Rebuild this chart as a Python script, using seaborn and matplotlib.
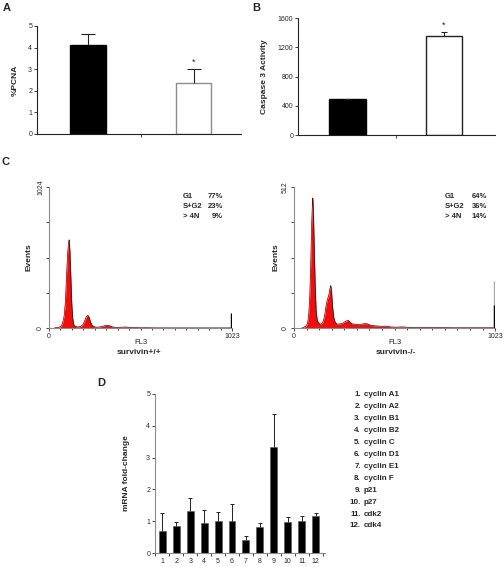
import matplotlib
matplotlib.use("Agg")
import matplotlib.pyplot as plt
import seaborn as sns

# ── Data ──────────────────────────────────────────────────────────────────────
groups = ["survivin+/+", "survivin-/-"]
pcna_mean = [4.1, 2.35]
pcna_err = [0.52, 0.65]
casp_mean = [490, 1350]
casp_err = [8, 60]

# flow cytometry histograms (FL3 channel vs events)
wt_channel = [30, 40, 55, 65, 75, 85, 92, 98, 104, 110, 113, 117, 122, 127, 132,
              137, 145, 160, 175, 190, 200, 210, 217, 224, 232, 242, 255, 270,
              290, 305, 318, 330, 342, 355, 370, 390, 410, 430, 450, 470, 500,
              550, 600, 700, 800, 900, 1000, 1016]
wt_events = [0, 3, 5, 10, 30, 90, 200, 380, 540, 630, 640, 560, 380, 190, 80,
             30, 12, 8, 10, 25, 55, 85, 93, 80, 45, 18, 8, 6,
             9, 14, 19, 20, 15, 8, 5, 5, 6, 7, 5, 3, 2,
             2, 1, 1, 1, 1, 1, 1]
ko_channel = [40, 50, 60, 68, 74, 80, 85, 90, 94, 96, 99, 103, 108, 113, 118,
              125, 135, 145, 155, 163, 170, 176, 182, 187, 191, 196, 202, 210,
              220, 235, 250, 262, 275, 285, 295, 310, 330, 345, 360, 375, 390,
              410, 430, 450, 470, 490, 520, 550, 570, 600, 700, 800, 900, 1000,
              1016]
ko_events = [0, 3, 6, 15, 40, 110, 230, 380, 460, 472, 420, 300, 150, 60, 30,
             18, 14, 18, 40, 80, 105, 115, 140, 155, 135, 80, 40, 20,
             14, 15, 18, 24, 28, 22, 15, 14, 12, 14, 16, 15, 10,
             8, 7, 6, 7, 4, 3, 4, 3, 2, 2, 1, 1, 1,
             1]
spike_channel = [1019]
wt_spike = [109]
ko_spike = [85]
ko_spike_grey = [170]

phases = ["G1", "S+G2", "> 4N"]
wt_pct = ["77%", "23%", "9%"]
ko_pct = ["64%", "36%", "14%"]

gene_ids = [str(i) for i in range(1, 13)]
gene_names = ["cyclin A1", "cyclin A2", "cyclin B1", "cyclin B2", "cyclin C",
              "cyclin D1", "cyclin E1", "cyclin F", "p21", "p27", "cdk2", "cdk4"]
mrna_fold = [0.70, 0.85, 1.31, 0.95, 1.00, 1.00, 0.41, 0.83, 3.33, 0.97, 1.00, 1.17]
mrna_err = [0.57, 0.14, 0.41, 0.41, 0.28, 0.53, 0.11, 0.11, 1.03, 0.17, 0.16, 0.09]

# ── Style ─────────────────────────────────────────────────────────────────────
sns.set_style("ticks")
plt.rcParams['font.family'] = ['Liberation Sans', 'DejaVu Sans']

W, H = 504, 567
fig = plt.figure(figsize=(W / 100, H / 100), dpi=100)


def box(l, t, r, b):
    return [l / W, 1 - b / H, (r - l) / W, (b - t) / H]


def fp(x, y):
    return x / W, 1 - y / H


def style_axes(ax, spine_color):
    for s in ["top", "right"]:
        ax.spines[s].set_visible(False)
    for s in ["left", "bottom"]:
        ax.spines[s].set_color(spine_color)
        ax.spines[s].set_linewidth(0.8)
    ax.tick_params(axis="both", which="both", direction="out", width=0.6,
                   color="#222222", labelsize=5, pad=1.5, length=2)


def up_errors(ax, x, y, err, capsize, lw=0.8):
    eb = ax.errorbar(x, y, yerr=[[0] * len(err), err], fmt="none",
                     ecolor="#222222", elinewidth=lw, capsize=capsize, capthick=lw)
    eb[1][0].set_visible(False)


# ── A / B bar panels ──────────────────────────────────────────────────────────
def bar_panel(rect, means, errs, edgecolors, width, capsize, ylim, yticks,
              ylabel, ylab_x, star_y):
    ax = fig.add_axes(rect)
    sns.barplot(x=groups, y=means, hue=groups, palette=["black", "white"],
                legend=False, width=width, errorbar=None, linewidth=1, ax=ax)
    for p, ec in zip(ax.patches, edgecolors):
        p.set_edgecolor(ec)
    up_errors(ax, [0, 1], means, errs, capsize)
    ax.text(1, star_y, "*", ha="center", va="baseline", fontsize=6.5)
    style_axes(ax, "#222222")
    ax.set_ylim(*ylim)
    ax.set_yticks(yticks)
    ax.set_xticks([0.5])
    ax.set_xticklabels([])
    ax.set_xlabel("")
    ax.set_ylabel(ylabel, fontsize=6, fontweight="bold", va="center")
    ax.yaxis.set_label_coords(ylab_x, 0.5)
    return ax


axA = bar_panel(box(37, 26, 241, 134), pcna_mean, pcna_err, ["black", "#8c8c8c"],
                0.34, 4.7, (0, 5), [0, 1, 2, 3, 4, 5], "%PCNA", -0.108, 3.2)
axA.set_xlim(-0.483, 1.45)

axB = bar_panel(box(298, 18, 495, 135), casp_mean, casp_err, ["black", "#222222"],
                0.38, 2.5, (0, 1600), [0, 400, 800, 1200, 1600],
                "Caspase 3 Activity", -0.168, 1466)
axB.set_xlim(-0.513, 1.53)


# ── C histograms ──────────────────────────────────────────────────────────────
def hist_panel(rect, ch, ev, ymax, pct, txt_x, pct_x, title, title_x, ylab_x):
    ax = fig.add_axes(rect)
    ax.fill_between(ch, ev, color="#f20c0c", lw=0)
    sns.lineplot(x=ch, y=ev, ax=ax, color="#5a0000", lw=0.5, estimator=None,
                 sort=False)
    style_axes(ax, "#8c8c8c")
    ax.set_xlim(0, 1023)
    ax.set_ylim(0, ymax)
    ax.set_xticks([0, 1023])
    ax.set_xticks(range(64, 1023, 64), minor=True)
    ax.tick_params(axis="x", which="minor", length=1.2)
    ax.set_yticks([0, ymax])
    ax.set_yticks([ymax / 4, ymax / 2, 3 * ymax / 4], minor=True)
    ax.set_yticklabels(["0", str(ymax)], rotation=90, va="center")
    ax.set_xlabel("FL3", fontsize=5.5, va="center")
    ax.xaxis.set_label_coords(0.5, -0.1)
    ax.set_ylabel("Events", fontsize=6, fontweight="bold", va="center")
    ax.yaxis.set_label_coords(ylab_x, 0.5)
    for i, (ph, pc) in enumerate(zip(phases, pct)):
        y = 197 + 10 * i
        fig.text(*fp(txt_x, y), ph, ha="left", va="center", fontsize=5.5,
                 fontweight="bold")
        fig.text(*fp(pct_x, y), pc, ha="right", va="center", fontsize=5.5,
                 fontweight="bold")
    fig.text(*fp(title_x, 353), title, ha="center", va="center", fontsize=6,
             fontweight="bold")
    return ax


axC1 = hist_panel(box(49, 187, 232, 328), wt_channel, wt_events, 1024, wt_pct,
                  183, 223, "survivin+/+", 139, -0.108)
axC1.vlines(spike_channel, 0, wt_spike, color="black", lw=1.0, zorder=5)

axC2 = hist_panel(box(294, 187, 495, 328), ko_channel, ko_events, 512, ko_pct,
                  445, 487, "survivin-/-", 396, -0.09)
axC2.vlines(spike_channel, 0, ko_spike_grey, color="#a8a8a8", lw=1.0, zorder=5)
axC2.vlines(spike_channel, 0, ko_spike, color="black", lw=1.0, zorder=6)

# ── D mRNA bars ───────────────────────────────────────────────────────────────
axD = fig.add_axes(box(155, 394, 325, 553))
sns.barplot(x=gene_ids, y=mrna_fold, color="black", width=0.5, errorbar=None,
            edgecolor="#555555", linewidth=0.4, ax=axD)
up_errors(axD, list(range(12)), mrna_fold, mrna_err, 1.5, lw=0.7)
style_axes(axD, "#8c8c8c")
axD.set_ylim(0, 5)
axD.set_yticks([0, 1, 2, 3, 4, 5])
axD.set_xlim(-0.523, 11.67)
axD.tick_params(axis="x", which="major", length=0, pad=3.5)
axD.set_xticks([i + 0.5 for i in range(-1, 12)], minor=True)
axD.set_xlabel("")
axD.set_ylabel("mRNA fold-change", fontsize=6, fontweight="bold", va="center")
axD.yaxis.set_label_coords(-0.17, 0.5)

for i, (gid, name) in enumerate(zip(gene_ids, gene_names)):
    y = 394.3 + 11.97 * i
    fig.text(*fp(361, y), gid + ".", ha="right", va="center", fontsize=5.8,
             fontweight="bold")
    fig.text(*fp(363.5, y), name, ha="left", va="center", fontsize=5.8,
             fontweight="bold")

# ── Panel letters ─────────────────────────────────────────────────────────────
for letter, (x, y) in zip("ABCD", [(3, 8), (252, 8), (2, 162), (97, 383)]):
    fig.text(*fp(x, y), letter, ha="left", va="center", fontsize=8,
             fontweight="bold")

fig.savefig("out.png", dpi=100)
